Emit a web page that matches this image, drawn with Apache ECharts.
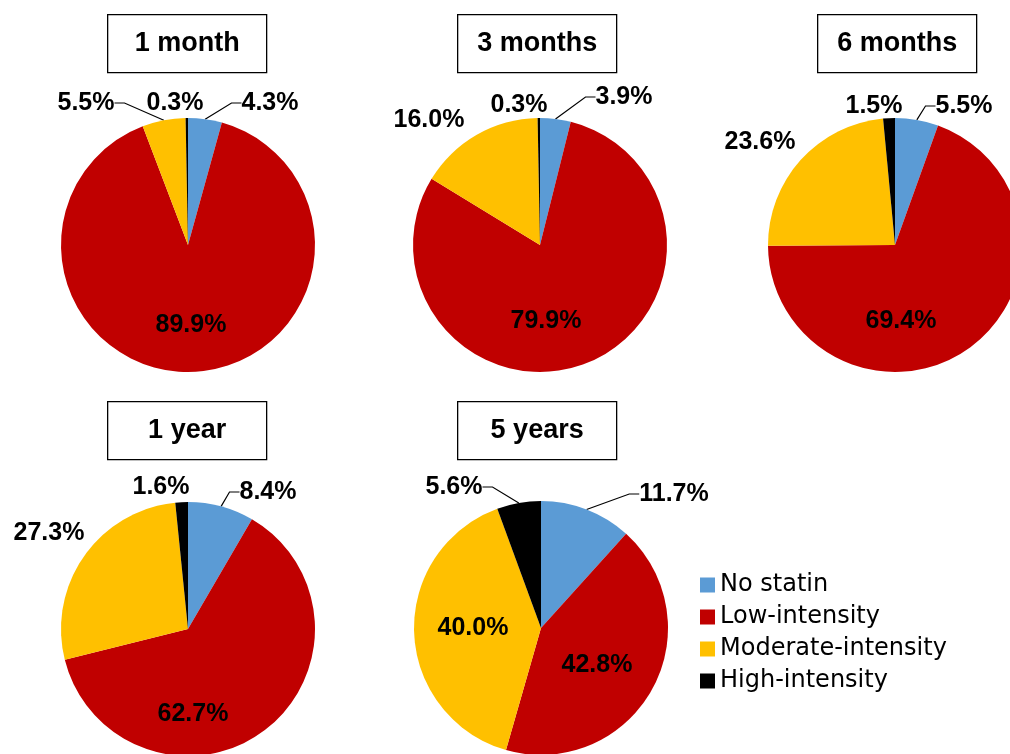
<!DOCTYPE html>
<html><head><meta charset="utf-8">
<script src="https://cdn.jsdelivr.net/npm/echarts@6/dist/echarts.min.js"></script>
<style>html,body{margin:0;padding:0;background:#fff}#chart{width:1010px;height:754px}</style>
</head><body><div id="chart"></div>
<script>
// ---- data ----
const categories = ['No statin', 'Low-intensity', 'Moderate-intensity', 'High-intensity'];
const periods = ['1 month', '3 months', '6 months', '1 year', '5 years'];
const month1 = [4.3, 89.9, 5.5, 0.3];
const months3 = [3.9, 79.9, 16.0, 0.3];
const months6 = [5.5, 69.4, 23.6, 1.5];
const year1 = [8.4, 62.7, 27.3, 1.6];
const years5 = [11.7, 42.8, 40.0, 5.6];
const seriesValues = [month1, months3, months6, year1, years5];

// ---- style / layout ----
const colors = ['#5B9BD5', '#C00000', '#FFC000', '#000000'];
const centers = [[188, 245], [540, 245], [895, 245], [188, 629], [541, 628]];
const radius = 127;
const titleBoxes = [[107, 14], [457, 14], [817, 14], [107, 401], [457, 401]];
const boxW = 159, boxH = 58;
// label centre offsets relative to pie centre
const labelOffsets = [
  [[82, -142], [3, 80], [-102, -142], [-13, -142]],
  [[84, -148], [6, 76], [-111, -125], [-21, -140]],
  [[69, -139], [6, 76], [-135, -103], [-21, -139]],
  [[80, -137], [5, 85], [-139, -96], [-27, -142]],
  [[133, -134], [56, 37], [-68, 0], [-87, -141]]
];
const labelInside = [
  [false, true, false, false],
  [false, true, false, false],
  [false, true, false, false],
  [false, true, false, false],
  [false, true, true, false]
];
const lineShow = [
  [true, false, true, false],
  [true, false, false, false],
  [true, false, false, false],
  [true, false, false, false],
  [true, false, false, true]
];

const labelFont = { fontFamily: 'Liberation Sans', fontWeight: 'bold', fontSize: 25, color: '#000' };

const series = seriesValues.map((vals, s) => ({
  type: 'pie',
  name: periods[s],
  center: centers[s],
  radius: radius,
  startAngle: 90,
  clockwise: true,
  avoidLabelOverlap: false,
  animation: false,
  silent: true,
  data: vals.map((v, i) => ({
    name: categories[i],
    value: v,
    itemStyle: { color: colors[i] },
    label: {
      show: true,
      position: labelInside[s][i] ? 'inside' : 'outside',
      formatter: (p) => p.value.toFixed(1) + '%',
      ...labelFont
    },
    labelLine: {
      show: lineShow[s][i],
      length: 10, length2: 10,
      lineStyle: { color: '#000', width: 1.2 }
    }
  })),
  labelLayout: function (params) {
    const o = labelOffsets[params.seriesIndex][params.dataIndex];
    const c = centers[params.seriesIndex];
    return { x: c[0] + o[0], y: c[1] + o[1], align: 'center', verticalAlign: 'middle' };
  }
}));

const graphics = periods.map((t, s) => ({
  type: 'group',
  left: titleBoxes[s][0],
  top: titleBoxes[s][1],
  children: [
    { type: 'rect', shape: { x: 0, y: 0, width: boxW, height: boxH },
      style: { fill: '#fff', stroke: '#000', lineWidth: 1.3 } },
    { type: 'text', x: boxW / 2, y: boxH / 2,
      style: { text: t, textAlign: 'center', textVerticalAlign: 'middle',
               font: 'bold 27px "Liberation Sans"', fill: '#000' } }
  ]
}));

const chart = echarts.init(document.getElementById('chart'), null, { renderer: 'canvas' });
chart.setOption({
  backgroundColor: '#fff',
  animation: false,
  legend: {
    orient: 'vertical',
    left: 700,
    top: 573,
    padding: 0,
    icon: 'rect',
    itemWidth: 15,
    itemHeight: 15,
    itemGap: 8,
    data: categories,
    textStyle: { fontFamily: 'DejaVu Sans', fontSize: 24, color: '#000' }
  },
  graphic: graphics,
  series: series
});
</script>
</body></html>
